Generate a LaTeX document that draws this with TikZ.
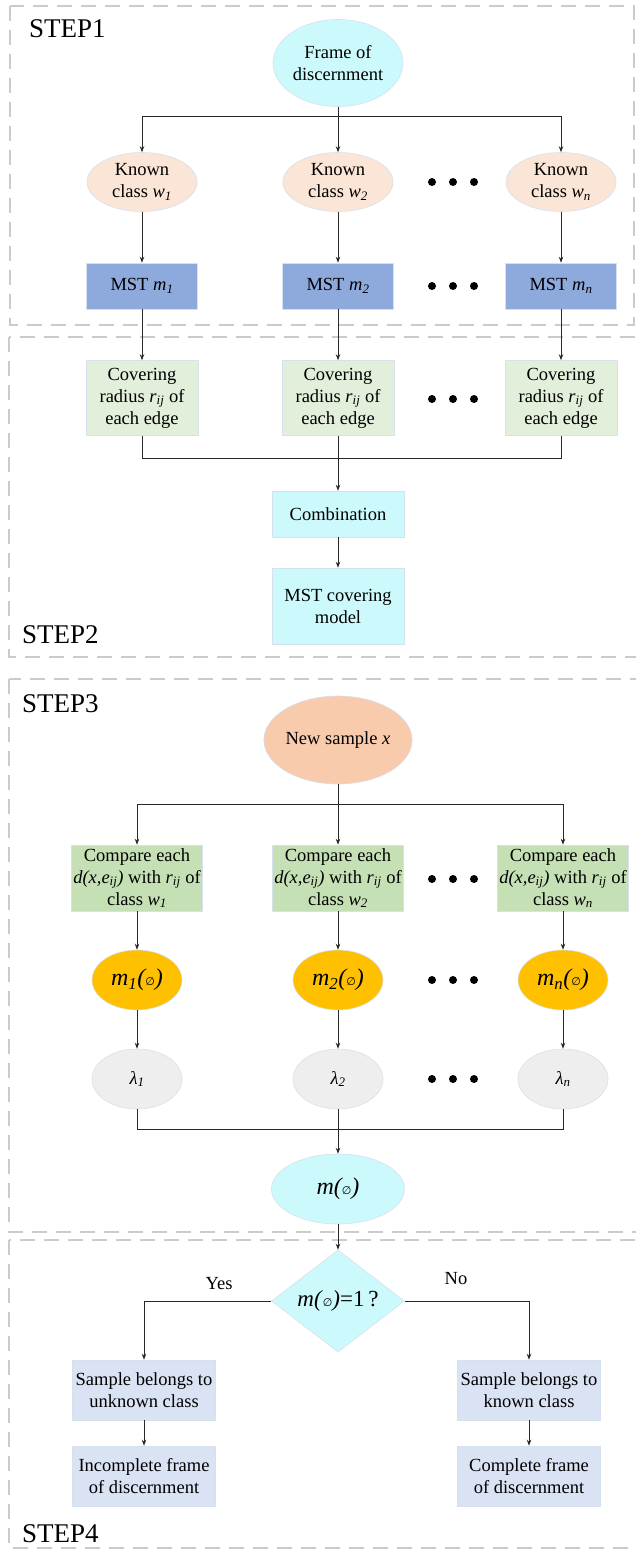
\documentclass[tikz,border=0pt]{standalone}
\usepackage{fontspec}
\setmainfont{Liberation Serif}
\newfontfamily\symfnt{DejaVu Sans}
\usetikzlibrary{shapes.geometric,arrows.meta}
\newcommand\isub[1]{\textsubscript{\itshape #1}}
\newcommand\esym{{\symfnt\fontsize{11}{11}\selectfont\itshape ∅}}
\definecolor{cyanf}{RGB}{204,250,252}
\definecolor{peach}{RGB}{251,229,214}
\definecolor{mstblue}{RGB}{142,169,219}
\definecolor{lgreen}{RGB}{226,239,218}
\definecolor{salmon}{RGB}{248,203,173}
\definecolor{green2}{RGB}{197,224,180}
\definecolor{gold}{RGB}{255,192,0}
\definecolor{lgray}{RGB}{238,238,238}
\definecolor{lav}{RGB}{218,227,243}
\definecolor{dashgray}{RGB}{200,203,208}
\definecolor{edgec}{RGB}{215,225,235}
\definecolor{linec}{RGB}{40,40,40}
\begin{document}
\begin{tikzpicture}[x=1pt,y=-1pt,
  every node/.style={font=\fontsize{18.5}{22}\selectfont, align=center, inner sep=0pt},
  arr/.style={-{Stealth[length=6pt,width=4.5pt]}, draw=linec, line width=0.8pt},
  ln/.style={draw=linec, line width=0.8pt},
  frame/.style={draw=dashgray, line width=2.5pt, dash pattern=on 15pt off 9pt},
  ell/.style={ellipse, draw=edgec, line width=0.6pt},
  box/.style={rectangle, draw=edgec, line width=0.6pt},
  steplabel/.style={font=\fontsize{27}{27}\selectfont, anchor=base west},
  bigm/.style={font=\fontsize{24}{24}\selectfont\itshape}
]
\useasboundingbox (0,0) rectangle (636,1550);
\fill[white] (0,0) rectangle (636,1550);

% frames
\draw[frame] (10,6) rectangle (634,325);
\draw[frame] (9,337) rectangle (650,657);
\draw[frame] (9,679) rectangle (650,1232);
\draw[frame] (9,1240) rectangle (650,1548);

\node[steplabel] (t1) at (29,37) {STEP1};
\node[steplabel] (t2) at (22,643) {STEP2};
\node[steplabel] (t3) at (22,712) {STEP3};
\node[steplabel] (t4) at (22,1542) {STEP4};

% STEP1
\node[ell, fill=cyanf, minimum width=130pt, minimum height=87pt] (fod) at (338,63) {Frame of\\discernment};
\node[ell, fill=peach, minimum width=110pt, minimum height=59pt] (k1) at (142,182) {Known\\class \textit{w}\isub{1}};
\node[ell, fill=peach, minimum width=110pt, minimum height=59pt] (k2) at (338,182) {Known\\class \textit{w}\isub{2}};
\node[ell, fill=peach, minimum width=110pt, minimum height=59pt] (kn) at (561,182) {Known\\class \textit{w}\isub{n}};
\node[box, fill=mstblue, minimum width=111pt, minimum height=46pt] (m1) at (142,286) {MST \textit{m}\isub{1}};
\node[box, fill=mstblue, minimum width=111pt, minimum height=46pt] (m2) at (338,286) {MST \textit{m}\isub{2}};
\node[box, fill=mstblue, minimum width=111pt, minimum height=46pt] (mn) at (561,286) {MST \textit{m}\isub{n}};
\coordinate (s1) at (338,116);
\draw[arr] (fod.south) -- (k2.north);
\draw[arr] (s1) -| (k1.north);
\draw[arr] (s1) -| (kn.north);
\draw[arr] (k1) -- (m1);
\draw[arr] (k2) -- (m2);
\draw[arr] (kn) -- (mn);

% STEP2
\node[box, fill=lgreen, minimum width=112pt, minimum height=75pt] (c1) at (142,398) {Covering\\radius \textit{r}\isub{ij} of\\each edge};
\node[box, fill=lgreen, minimum width=112pt, minimum height=75pt] (c2) at (338,398) {Covering\\radius \textit{r}\isub{ij} of\\each edge};
\node[box, fill=lgreen, minimum width=112pt, minimum height=75pt] (cn) at (561,398) {Covering\\radius \textit{r}\isub{ij} of\\each edge};
\draw[arr] (m1) -- (c1);
\draw[arr] (m2) -- (c2);
\draw[arr] (mn) -- (cn);
\node[box, fill=cyanf, minimum width=132pt, minimum height=46pt] (comb) at (338,514) {Combination};
\node[box, fill=cyanf, minimum width=132pt, minimum height=76pt] (model) at (338,606) {MST covering\\model};
\coordinate (j1) at (338,458);
\draw[ln] (c1.south) |- (j1);
\draw[ln] (cn.south) |- (j1);
\draw[arr] (c2.south) -- (comb.north);
\draw[arr] (comb) -- (model);

% STEP3
\node[ell, fill=salmon, minimum width=130pt, minimum height=88pt] (ns) at (338,740) {New sample \textit{x}};
\node[box, fill=green2, minimum width=131pt, minimum height=66pt] (cp1) at (137,878) {Compare each\\\textit{d(x,e}\isub{ij}\textit{)} with \textit{r}\isub{ij} of\\class \textit{w}\isub{1}};
\node[box, fill=green2, minimum width=131pt, minimum height=66pt] (cp2) at (338,878) {Compare each\\\textit{d(x,e}\isub{ij}\textit{)} with \textit{r}\isub{ij} of\\class \textit{w}\isub{2}};
\node[box, fill=green2, minimum width=131pt, minimum height=66pt] (cpn) at (563,878) {Compare each\\\textit{d(x,e}\isub{ij}\textit{)} with \textit{r}\isub{ij} of\\class \textit{w}\isub{n}};
\coordinate (s3) at (338,804);
\draw[arr] (ns.south) -- (cp2.north);
\draw[arr] (s3) -| (cp1.north);
\draw[arr] (s3) -| (cpn.north);
\node[ell, fill=gold, minimum width=90pt, minimum height=60pt, bigm] (mm1) at (137,980) {m\isub{1}(\esym)};
\node[ell, fill=gold, minimum width=90pt, minimum height=60pt, bigm] (mm2) at (338,980) {m\isub{2}(\esym)};
\node[ell, fill=gold, minimum width=90pt, minimum height=60pt, bigm] (mmn) at (563,980) {m\isub{n}(\esym)};
\draw[arr] (cp1) -- (mm1);
\draw[arr] (cp2) -- (mm2);
\draw[arr] (cpn) -- (mmn);
\node[ell, fill=lgray, minimum width=90pt, minimum height=60pt] (l1) at (137,1079) {\textit{λ}\isub{1}};
\node[ell, fill=lgray, minimum width=90pt, minimum height=60pt] (l2) at (338,1079) {\textit{λ}\isub{2}};
\node[ell, fill=lgray, minimum width=90pt, minimum height=60pt] (lamn) at (563,1079) {\textit{λ}\isub{n}};
\draw[arr] (mm1) -- (l1);
\draw[arr] (mm2) -- (l2);
\draw[arr] (mmn) -- (lamn);
\node[ell, fill=cyanf, minimum width=133pt, minimum height=70pt, bigm] (mall) at (338,1189) {m(\esym)};
\coordinate (j3) at (338,1129);
\draw[ln] (l1.south) |- (j3);
\draw[ln] (lamn.south) |- (j3);
\draw[arr] (l2.south) -- (mall.north);

% dots
\foreach \yy in {182,286,399,879,980,1079}{
  \foreach \xx in {432,453,474}{
    \fill (\xx,\yy) circle (4pt);
  }
}

% STEP4
\node[diamond, fill=cyanf, draw=edgec, line width=0.6pt, minimum width=133pt, minimum height=94pt, font=\fontsize{23}{23}\selectfont] (dia) at (338,1301) {\textit{m(}\esym\textit{)}=1\,?};
\draw[arr] (mall.south) -- (dia.north);
\node[box, fill=lav, minimum width=143pt, minimum height=60pt] (sb1) at (144,1390) {Sample belongs to\\unknown class};
\node[box, fill=lav, minimum width=143pt, minimum height=60pt] (sbn) at (529,1390) {Sample belongs to\\known class};
\node[box, fill=lav, minimum width=143pt, minimum height=60pt] (fr1) at (144,1476) {Incomplete frame\\of discernment};
\node[box, fill=lav, minimum width=143pt, minimum height=60pt] (frn) at (529,1476) {Complete frame\\of discernment};
\draw[arr] (dia.west) -| (sb1.north);
\draw[arr] (dia.east) -| (sbn.north);
\draw[arr] (sb1) -- (fr1);
\draw[arr] (sbn) -- (frn);
\node (yes) at (219,1284) {Yes};
\node (no) at (456,1279) {No};
\end{tikzpicture}
\end{document}
